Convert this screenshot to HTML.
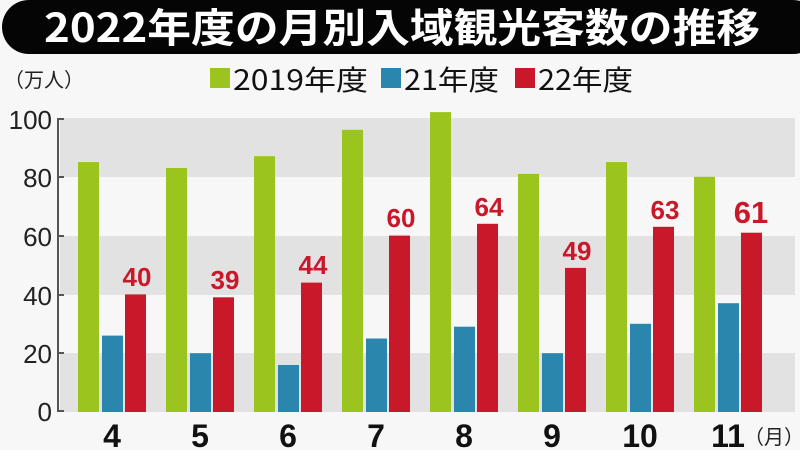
<!DOCTYPE html>
<html><head><meta charset="utf-8"><style>
body{margin:0;background:#f7f7f7;}
svg{display:block;font-family:"Liberation Sans","Noto Sans CJK JP",sans-serif;}
</style></head><body>
<svg width="800" height="450" viewBox="0 0 800 450">
<rect width="800" height="450" fill="#f7f7f7"/>
<rect x="2" y="0" width="818" height="54" rx="27" fill="#050505"/>
<text x="402" y="42" text-anchor="middle" fill="#fff" font-size="40" font-weight="bold" font-family="Noto Sans CJK JP,sans-serif" textLength="716" lengthAdjust="spacingAndGlyphs">2022年度の月別入域観光客数の推移</text>
<text x="4" y="87" font-size="20" fill="#222" font-family="Noto Sans CJK JP,sans-serif">（万人）</text>
<rect x="210" y="68" width="20" height="20" fill="#9bc41e"/>
<text x="233" y="90" font-size="28" fill="#111" font-family="Noto Sans CJK JP,sans-serif" textLength="135" lengthAdjust="spacingAndGlyphs">2019年度</text>
<rect x="381" y="68" width="20" height="20" fill="#2b86ad"/>
<text x="404" y="90" font-size="28" fill="#111" font-family="Noto Sans CJK JP,sans-serif" textLength="95" lengthAdjust="spacingAndGlyphs">21年度</text>
<rect x="515" y="68" width="20" height="20" fill="#c9182a"/>
<text x="538" y="90" font-size="28" fill="#111" font-family="Noto Sans CJK JP,sans-serif" textLength="95" lengthAdjust="spacingAndGlyphs">22年度</text>
<g fill="#e2e2e2">
<rect x="60" y="353" width="735" height="59"/>
<rect x="60" y="236" width="735" height="59"/>
<rect x="60" y="118" width="735" height="59"/>
</g>
<line x1="58" y1="118" x2="58" y2="412" stroke="#555" stroke-width="2"/>
<g stroke="#555" stroke-width="2">
<line x1="58" y1="119" x2="64" y2="119"/><line x1="58" y1="177" x2="64" y2="177"/><line x1="58" y1="236" x2="64" y2="236"/><line x1="58" y1="295" x2="64" y2="295"/><line x1="58" y1="353" x2="64" y2="353"/><line x1="58" y1="411" x2="64" y2="411"/>
</g>
<g font-size="26" fill="#222" text-anchor="end">
<text x="52" y="129">100</text><text x="52" y="187">80</text><text x="52" y="246">60</text><text x="52" y="305">40</text><text x="52" y="363">20</text><text x="52" y="421">0</text>
</g>
<g fill="#9bc41e">
<rect x="78" y="162.1" width="21" height="249.9"/>
<rect x="166" y="168" width="21" height="244"/>
<rect x="254" y="156.2" width="21" height="255.8"/>
<rect x="342" y="129.8" width="21" height="282.2"/>
<rect x="430" y="112.1" width="21" height="299.9"/>
<rect x="518" y="173.9" width="21" height="238.1"/>
<rect x="606" y="162.1" width="21" height="249.9"/>
<rect x="694" y="176.8" width="21" height="235.2"/>
</g>
<g fill="#2b86ad">
<rect x="102" y="335.6" width="21" height="76.4"/>
<rect x="190" y="353.2" width="21" height="58.8"/>
<rect x="278" y="365" width="21" height="47"/>
<rect x="366" y="338.5" width="21" height="73.5"/>
<rect x="454" y="326.7" width="21" height="85.3"/>
<rect x="542" y="353.2" width="21" height="58.8"/>
<rect x="630" y="323.8" width="21" height="88.2"/>
<rect x="718" y="303.2" width="21" height="108.8"/>
</g>
<g fill="#c9182a">
<rect x="125" y="294.4" width="21" height="117.6"/>
<rect x="213" y="297.3" width="21" height="114.7"/>
<rect x="301" y="282.6" width="21" height="129.4"/>
<rect x="389" y="235.6" width="21" height="176.4"/>
<rect x="477" y="223.8" width="21" height="188.2"/>
<rect x="565" y="267.9" width="21" height="144.1"/>
<rect x="653" y="226.8" width="21" height="185.2"/>
<rect x="741" y="232.7" width="21" height="179.3"/>
</g>
<g font-size="26" font-weight="bold" fill="#c9182a" text-anchor="middle">
<text x="137" y="286">40</text>
<text x="225" y="289">39</text>
<text x="313" y="274">44</text>
<text x="401" y="227">60</text>
<text x="489" y="216">64</text>
<text x="577" y="260">49</text>
<text x="665" y="219">63</text>
<text x="751" y="223" font-size="31">61</text>
</g>
<g font-size="32" font-weight="bold" fill="#111" text-anchor="middle">
<text x="112" y="447">4</text><text x="200" y="447">5</text><text x="288" y="447">6</text><text x="376" y="447">7</text><text x="464" y="447">8</text><text x="552" y="447">9</text><text x="640" y="447">10</text><text x="728" y="447">11</text>
</g>
<text x="744" y="444" font-size="20" fill="#222" font-family="Noto Sans CJK JP,sans-serif">（月）</text>
</svg>
</body></html>
